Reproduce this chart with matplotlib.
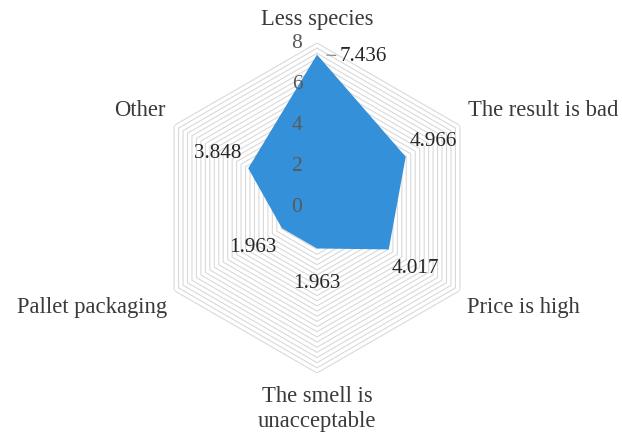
import numpy as np
import matplotlib
matplotlib.use("Agg")
import matplotlib.pyplot as plt

categories = ["Less species", "The result is bad", "Price is high",
              "The smell is\nunacceptable", "Pallet packaging", "Other"]
values = [7.436, 4.966, 4.017, 1.963, 1.963, 3.848]
value_labels = ["7.436", "4.966", "4.017", "1.963", "1.963", "3.848"]
r_ticks = [0, 2, 4, 6, 8]
r_max = 8

plt.rcParams['font.family'] = ['Liberation Serif', 'DejaVu Serif']

fig = plt.figure(figsize=(6.22, 4.33), dpi=100)
W, H = 622, 433
cx, cy, rad = 317, 208, 165
ax = fig.add_axes([(cx - rad) / W, (H - cy - rad) / H, 2 * rad / W, 2 * rad / H],
                  projection='polar')
ax.set_theta_zero_location('N')
ax.set_theta_direction(-1)
ax.set_ylim(0, r_max)
ax.set_xticks([])
ax.set_yticks([])
ax.grid(False)
ax.spines['polar'].set_visible(False)
ax.patch.set_alpha(0)

n = len(categories)
theta = np.linspace(0, 2 * np.pi, n, endpoint=False)
theta_c = np.append(theta, theta[0])

# hexagon grid rings
for r in np.arange(0.25, r_max + 0.01, 0.25):
    ax.plot(theta_c, [r] * (n + 1), color='#d9d9d9', lw=0.8, zorder=1)

vals_c = np.append(values, values[0])
ax.fill(theta_c, vals_c, color='#3490d8', zorder=2, lw=0)

# radial tick labels
for t in r_ticks:
    ax.annotate(str(t), xy=(0, t), xytext=(-20, 0), textcoords='offset pixels',
                ha='center', va='center', fontsize=15.5, color='#595959', zorder=5)

# category labels
cat_offsets = [(0, 23, 'center'), (8, 15, 'left'), (7, -17, 'left'),
               (0, -36, 'center'), (-7, -17, 'right'), (-9, 15, 'right')]
for th, lab, (dx, dy, ha) in zip(theta, categories, cat_offsets):
    ax.annotate(lab, xy=(th, r_max), xytext=(dx, dy), textcoords='offset pixels',
                ha=ha, va='center', fontsize=16.3, color='#3a3a3a',
                linespacing=1.2, annotation_clip=False)

# data labels
lab_offsets = [(23, -2, 'left'), (28, 15, 'center'), (27, -19, 'center'),
               (0, -35, 'center'), (-29, -19, 'center'), (-31, 15, 'center')]
for i, (th, v, lab, (dx, dy, ha)) in enumerate(zip(theta, values, value_labels, lab_offsets)):
    kw = {}
    if i == 0:
        kw['arrowprops'] = dict(arrowstyle='-', color='#7f7f7f', lw=0.8,
                                shrinkA=1, shrinkB=7)
    ax.annotate(lab, xy=(th, v), xytext=(dx, dy), textcoords='offset pixels',
                ha=ha, va='center', fontsize=15.2, color='#262626', zorder=6, **kw)

fig.savefig('out.png', dpi=100)
